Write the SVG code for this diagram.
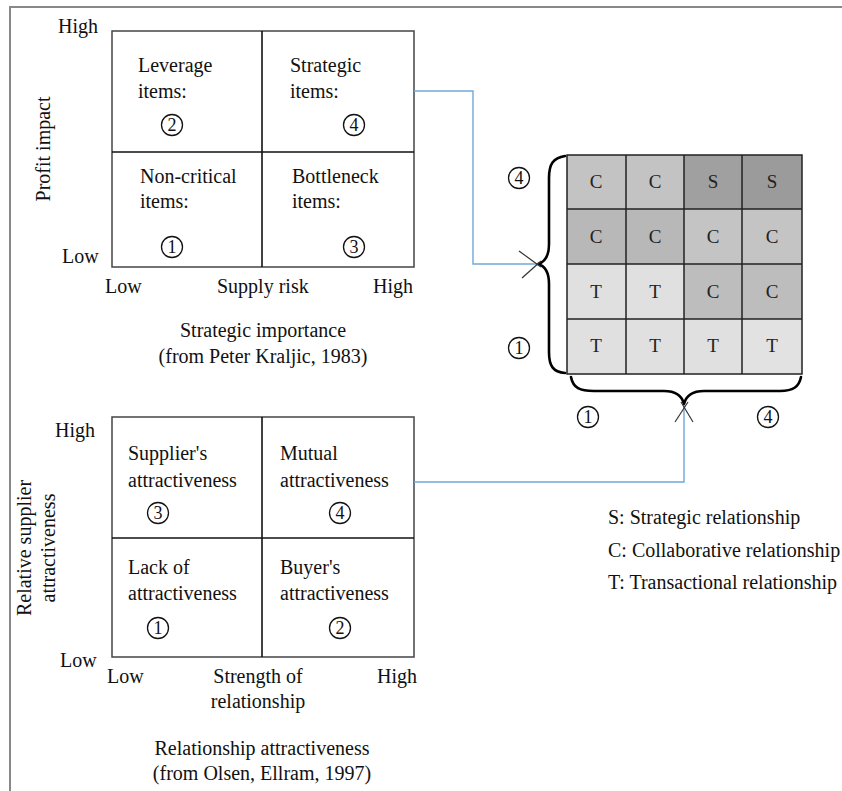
<svg xmlns="http://www.w3.org/2000/svg" width="842" height="791" viewBox="0 0 842 791">
  <style>
    text { font-family: "Liberation Serif", "Times New Roman", serif; font-size: 20px; fill: #111; }
    .mid { text-anchor: middle; }
    .cell { font-size: 19px; text-anchor: middle; fill: #222; }
    .num { font-size: 18px; text-anchor: middle; }
    .ring { fill: none; stroke: #111; stroke-width: 1.3; }
    .outer { fill: #fff; stroke: #444; stroke-width: 1.5; }
    .inner { stroke: #111; stroke-width: 1.6; }
    .grid { stroke: #222; stroke-width: 1.5; fill: none; }
    .link { fill: none; stroke: #6fa8dc; stroke-width: 1.4; }
    .brace { fill: none; stroke: #000; stroke-width: 2.6; stroke-linecap: round; stroke-linejoin: round; }
    .chev { stroke: #333; stroke-width: 1.2; }
    .frame { stroke: #888; stroke-width: 2; }
  </style>
  <defs>
    <g id="ring"><circle r="10.5" class="ring"/></g>
  </defs>

  <rect width="842" height="791" fill="#fff"/>
  <line class="frame" x1="10" y1="7" x2="842" y2="7"/>
  <line class="frame" x1="10" y1="6" x2="10" y2="791"/>

  <!-- Kraljic matrix -->
  <g id="kraljic">
    <rect class="outer" x="112" y="31" width="302" height="236"/>
    <line class="inner" x1="262" y1="31" x2="262" y2="267"/>
    <line class="inner" x1="112" y1="152" x2="414" y2="152"/>
    <text x="58" y="33">High</text>
    <text x="62" y="263">Low</text>
    <text class="mid" transform="translate(50,149) rotate(-90)">Profit impact</text>
    <text x="105" y="293">Low</text>
    <text x="217" y="293">Supply risk</text>
    <text x="373" y="293">High</text>
    <text class="mid" x="263" y="337">Strategic importance</text>
    <text class="mid" x="263" y="363">(from Peter Kraljic, 1983)</text>
  </g>
  <g id="leverage">
    <text x="138" y="72">Leverage</text>
    <text x="138" y="98">items:</text>
    <use href="#ring" x="172" y="125"/><text class="num" x="172" y="131">2</text>
  </g>
  <g id="strategic">
    <text x="290" y="72">Strategic</text>
    <text x="290" y="98">items:</text>
    <use href="#ring" x="354" y="125"/><text class="num" x="354" y="131">4</text>
  </g>
  <g id="noncritical">
    <text x="140" y="183">Non-critical</text>
    <text x="140" y="208">items:</text>
    <use href="#ring" x="172" y="247"/><text class="num" x="172" y="253">1</text>
  </g>
  <g id="bottleneck">
    <text x="292" y="183">Bottleneck</text>
    <text x="292" y="208">items:</text>
    <use href="#ring" x="354" y="247"/><text class="num" x="354" y="253">3</text>
  </g>

  <!-- Olsen & Ellram matrix -->
  <g id="olsen">
    <rect class="outer" x="112" y="417" width="302" height="240"/>
    <line class="inner" x1="262" y1="417" x2="262" y2="657"/>
    <line class="inner" x1="112" y1="538" x2="414" y2="538"/>
    <text x="55" y="437">High</text>
    <text x="60" y="667">Low</text>
    <text class="mid" transform="translate(31,548) rotate(-90)">Relative supplier</text>
    <text class="mid" transform="translate(55,548) rotate(-90)">attractiveness</text>
    <text x="107" y="683">Low</text>
    <text class="mid" x="258" y="683">Strength of</text>
    <text class="mid" x="258" y="708">relationship</text>
    <text x="377" y="683">High</text>
    <text class="mid" x="262" y="755">Relationship attractiveness</text>
    <text class="mid" x="262" y="780">(from Olsen, Ellram, 1997)</text>
  </g>
  <g id="suppliers">
    <text x="128" y="460">Supplier's</text>
    <text x="128" y="487">attractiveness</text>
    <use href="#ring" x="158" y="513"/><text class="num" x="158" y="519">3</text>
  </g>
  <g id="mutual">
    <text x="280" y="460">Mutual</text>
    <text x="280" y="487">attractiveness</text>
    <use href="#ring" x="340" y="513"/><text class="num" x="340" y="519">4</text>
  </g>
  <g id="lack">
    <text x="128" y="574">Lack of</text>
    <text x="128" y="600">attractiveness</text>
    <use href="#ring" x="158" y="628"/><text class="num" x="158" y="634">1</text>
  </g>
  <g id="buyers">
    <text x="280" y="574">Buyer's</text>
    <text x="280" y="600">attractiveness</text>
    <use href="#ring" x="340" y="628"/><text class="num" x="340" y="634">2</text>
  </g>

  <!-- Relationship grid -->
  <g id="relgrid">
    <rect x="567" y="155" width="59" height="54" fill="#c3c3c3"/>
    <rect x="626" y="155" width="58" height="54" fill="#c3c3c3"/>
    <rect x="684" y="155" width="58" height="54" fill="#a0a0a0"/>
    <rect x="742" y="155" width="60" height="54" fill="#9b9b9b"/>
    <rect x="567" y="209" width="59" height="55" fill="#b8b8b8"/>
    <rect x="626" y="209" width="58" height="55" fill="#b8b8b8"/>
    <rect x="684" y="209" width="58" height="55" fill="#c4c4c4"/>
    <rect x="742" y="209" width="60" height="55" fill="#c4c4c4"/>
    <rect x="567" y="264" width="59" height="55" fill="#e0e0e0"/>
    <rect x="626" y="264" width="58" height="55" fill="#e0e0e0"/>
    <rect x="684" y="264" width="58" height="55" fill="#bdbdbd"/>
    <rect x="742" y="264" width="60" height="55" fill="#bdbdbd"/>
    <rect x="567" y="319" width="59" height="55" fill="#e0e0e0"/>
    <rect x="626" y="319" width="58" height="55" fill="#e0e0e0"/>
    <rect x="684" y="319" width="58" height="55" fill="#e0e0e0"/>
    <rect x="742" y="319" width="60" height="55" fill="#e2e2e2"/>
    <rect class="grid" x="567" y="155" width="235" height="219" stroke="#555"/>
    <line class="grid" x1="626" y1="155" x2="626" y2="374"/>
    <line class="grid" x1="684" y1="155" x2="684" y2="374"/>
    <line class="grid" x1="742" y1="155" x2="742" y2="374"/>
    <line class="grid" x1="567" y1="209" x2="802" y2="209"/>
    <line class="grid" x1="567" y1="264" x2="802" y2="264"/>
    <line class="grid" x1="567" y1="319" x2="802" y2="319"/>
    <text class="cell" x="596" y="188">C</text>
    <text class="cell" x="655" y="188">C</text>
    <text class="cell" x="713" y="188">S</text>
    <text class="cell" x="772" y="188">S</text>
    <text class="cell" x="596" y="243">C</text>
    <text class="cell" x="655" y="243">C</text>
    <text class="cell" x="713" y="243">C</text>
    <text class="cell" x="772" y="243">C</text>
    <text class="cell" x="596" y="298">T</text>
    <text class="cell" x="655" y="298">T</text>
    <text class="cell" x="713" y="298">C</text>
    <text class="cell" x="772" y="298">C</text>
    <text class="cell" x="596" y="352">T</text>
    <text class="cell" x="655" y="352">T</text>
    <text class="cell" x="713" y="352">T</text>
    <text class="cell" x="772" y="352">T</text>
  </g>

  <!-- Axis braces of the grid -->
  <g id="brace-left">
    <path class="brace" d="M565,156 C553,158 549,164 549,178 L549,244 C549,256 545,262 538,264 C545,266 549,272 549,284 L549,352 C549,366 553,372 565,373"/>
    <use href="#ring" x="519" y="178"/><text class="num" x="519" y="184">4</text>
    <use href="#ring" x="519" y="348"/><text class="num" x="519" y="354">1</text>
  </g>
  <g id="brace-bottom">
    <path class="brace" d="M571,377 C573,388 580,391 594,391 L664,391 C676,391 682,396 684,404 C686,396 692,391 704,391 L780,391 C793,391 799,387 801,377"/>
    <use href="#ring" x="588" y="417"/><text class="num" x="588" y="423">1</text>
    <use href="#ring" x="768" y="417"/><text class="num" x="768" y="423">4</text>
  </g>

  <!-- Legend -->
  <g id="legend">
    <text x="608" y="524">S: Strategic relationship</text>
    <text x="608" y="557">C: Collaborative relationship</text>
    <text x="608" y="589">T: Transactional relationship</text>
  </g>

  <!-- Connectors -->
  <g id="connectors">
    <polyline class="link" points="414,91 473,91 473,264 538,264"/>
    <polyline class="link" points="414,482 684,482 684,405"/>
    <line class="chev" x1="519" y1="251" x2="541" y2="267"/>
    <line class="chev" x1="522" y1="278" x2="541" y2="261"/>
    <line class="chev" x1="675" y1="422" x2="688" y2="402"/>
    <line class="chev" x1="693" y1="422" x2="681" y2="402"/>
  </g>
</svg>
